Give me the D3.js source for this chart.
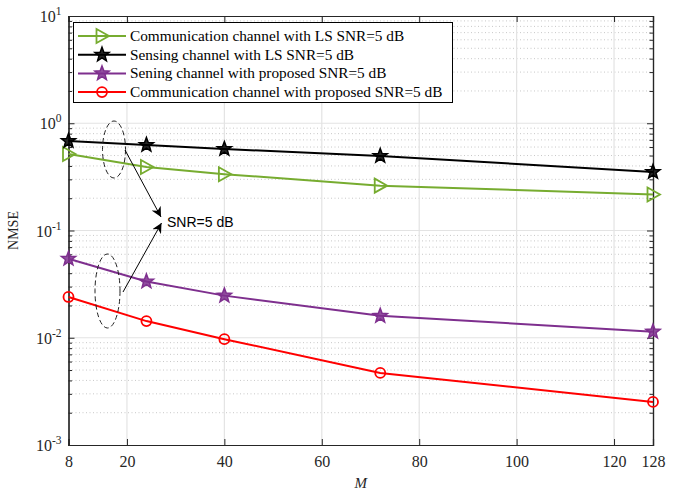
<!DOCTYPE html>
<html><head><meta charset="utf-8">
<script src="https://cdn.jsdelivr.net/npm/d3@7"></script>
<style>body{margin:0;background:#fff}svg{display:block}</style>
</head><body>
<script>
const M = [8, 24, 40, 72, 128];
const commLS = [0.517, 0.391, 0.335, 0.262, 0.217];
const senseLS = [0.683, 0.627, 0.575, 0.495, 0.351];
const senseProp = [0.0545, 0.0335, 0.0247, 0.0160, 0.0114];
const commProp = [0.0240, 0.0143, 0.0097, 0.0047, 0.00252];
const xTicks = [8, 20, 40, 60, 80, 100, 120, 128];
const yTickExps = [-3, -2, -1, 0, 1];
const legendLabels = [
  "Communication channel with LS SNR=5 dB",
  "Sensing channel with LS SNR=5 dB",
  "Sening channel with proposed SNR=5 dB",
  "Communication channel with proposed SNR=5 dB"
];

const W = 686, H = 491;
const L = 68.5, R = 653, T = 16, B = 445;
const svg = d3.select("body").append("svg").attr("width", W).attr("height", H);
const x = d3.scaleLinear().domain([8, 128]).range([L, R]);
const y = d3.scaleLog().domain([1e-3, 1e1]).range([B, T]);
const serif = "'Liberation Serif', 'Times New Roman', serif";

// minor grid
const minors = [];
for (let e = -3; e < 1; e++) for (let k = 2; k <= 9; k++) minors.push(k * Math.pow(10, e));
svg.append("g").selectAll("line").data(minors).join("line")
  .attr("x1", L).attr("x2", R).attr("y1", d => y(d)).attr("y2", d => y(d))
  .attr("stroke", "#c8c8c8").attr("stroke-width", 1).attr("stroke-dasharray", "1,2.5");
// major grid
svg.append("g").selectAll("line").data(yTickExps.slice(1, -1)).join("line")
  .attr("x1", L).attr("x2", R).attr("y1", d => y(Math.pow(10, d))).attr("y2", d => y(Math.pow(10, d)))
  .attr("stroke", "#e3e3e3").attr("stroke-width", 1.2);
svg.append("g").selectAll("line").data(xTicks.slice(1, -1)).join("line")
  .attr("x1", d => x(d)).attr("x2", d => x(d)).attr("y1", T).attr("y2", B)
  .attr("stroke", "#e3e3e3").attr("stroke-width", 1.2);

// axes (inside ticks)
const tickCol = "#262626";
const xAxisB = d3.axisBottom(x).tickValues(xTicks).tickSize(-6).tickPadding(11).tickFormat(d3.format("d"));
const gxb = svg.append("g").attr("transform", `translate(0,${B})`).call(xAxisB);
const gxt = svg.append("g").attr("transform", `translate(0,${T})`).call(d3.axisTop(x).tickValues(xTicks).tickSize(-6).tickFormat(""));
const yAxisL = d3.axisLeft(y).tickValues(yTickExps.map(e => Math.pow(10, e))).tickSize(-6).tickFormat("");
const gyl = svg.append("g").attr("transform", `translate(${L},0)`).call(yAxisL);
const gyr = svg.append("g").attr("transform", `translate(${R},0)`).call(d3.axisRight(y).tickValues(yTickExps.map(e => Math.pow(10, e))).tickSize(-6).tickFormat(""));
const gyl2 = svg.append("g").attr("transform", `translate(${L},0)`).call(d3.axisLeft(y).tickValues(minors).tickSize(-3.5).tickFormat(""));
const gyr2 = svg.append("g").attr("transform", `translate(${R},0)`).call(d3.axisRight(y).tickValues(minors).tickSize(-3.5).tickFormat(""));
[gxb, gxt, gyl, gyr, gyl2, gyr2].forEach(g => {
  g.selectAll("path.domain").attr("stroke", tickCol).attr("stroke-width", 1.2);
  g.selectAll(".tick line").attr("stroke", tickCol).attr("stroke-width", 1);
});
gxb.selectAll("text").attr("font-family", serif).attr("font-size", 16).attr("fill", "#262626");

// y tick labels with superscripts
const yl = svg.append("g").selectAll("text").data(yTickExps).join("text")
  .attr("x", L - 7).attr("y", d => y(Math.pow(10, d)) + 6)
  .attr("text-anchor", "end").attr("font-family", serif).attr("font-size", 16).attr("fill", "#262626");
yl.append("tspan").text("10");
yl.append("tspan").attr("dy", -7).attr("font-size", 11.5).text(d => d);

// axis labels
svg.append("text").attr("x", (L + R) / 2).attr("y", 488).attr("text-anchor", "middle")
  .attr("font-family", serif).attr("font-style", "italic").attr("font-size", 15).attr("fill", "#262626").text("M");
svg.append("text").attr("transform", `translate(18,${(T + B) / 2}) rotate(-90)`).attr("text-anchor", "middle")
  .attr("font-family", serif).attr("font-size", 14).attr("fill", "#262626").text("NMSE");

// markers
function starPath(r) {
  const pts = [];
  for (let i = 0; i < 10; i++) {
    const a = -Math.PI / 2 + i * Math.PI / 5;
    const rr = i % 2 === 0 ? r : r * 0.42;
    pts.push([rr * Math.cos(a), rr * Math.sin(a)]);
  }
  return "M" + pts.map(p => p.join(",")).join("L") + "Z";
}
const triPath = "M-5.5,-7L7,0L-5.5,7Z";
const series = [
  {data: commLS, color: "#77AC30", marker: "tri"},
  {data: senseLS, color: "#000000", marker: "star"},
  {data: senseProp, color: "#7E2F8E", marker: "star"},
  {data: commProp, color: "#FF0000", marker: "circle"}
];
function drawMarker(g, s, cx, cy) {
  if (s.marker === "circle") {
    g.append("circle").attr("cx", cx).attr("cy", cy).attr("r", 5).attr("fill", "none").attr("stroke", s.color).attr("stroke-width", 1.8);
  } else if (s.marker === "tri") {
    g.append("path").attr("d", triPath).attr("transform", `translate(${cx},${cy})`).attr("fill", "none").attr("stroke", s.color).attr("stroke-width", 1.8);
  } else {
    g.append("path").attr("d", starPath(7.5)).attr("transform", `translate(${cx},${cy})`).attr("fill", s.color).attr("fill-opacity", 0.85)
      .attr("stroke", s.color).attr("stroke-width", 1.5).attr("stroke-linejoin", "miter");
  }
}
const line = d3.line().x((d, i) => x(M[i])).y(d => y(d));
series.forEach(s => {
  const g = svg.append("g");
  g.append("path").datum(s.data).attr("d", line).attr("fill", "none").attr("stroke", s.color).attr("stroke-width", 2);
  s.data.forEach((v, i) => drawMarker(g, s, x(M[i]), y(v)));
});

// annotations
const ann = svg.append("g");
ann.append("ellipse").attr("cx", 114).attr("cy", 149.5).attr("rx", 11.5).attr("ry", 28.5)
  .attr("fill", "none").attr("stroke", "#222").attr("stroke-width", 1).attr("stroke-dasharray", "5,3");
ann.append("ellipse").attr("cx", 107.5).attr("cy", 291).attr("rx", 12.5).attr("ry", 37)
  .attr("fill", "none").attr("stroke", "#222").attr("stroke-width", 1).attr("stroke-dasharray", "5,3");
svg.append("defs").append("marker").attr("id", "ah").attr("viewBox", "0 0 10 10").attr("refX", 10).attr("refY", 5)
  .attr("markerWidth", 10).attr("markerHeight", 10).attr("markerUnits", "userSpaceOnUse").attr("orient", "auto")
  .append("path").attr("d", "M0,0L10,5L0,10L3,5Z").attr("fill", "#000");
ann.append("line").attr("x1", 125).attr("y1", 150).attr("x2", 161).attr("y2", 217)
  .attr("stroke", "#000").attr("stroke-width", 1).attr("marker-end", "url(#ah)");
ann.append("line").attr("x1", 123).attr("y1", 292).attr("x2", 161.5).attr("y2", 223)
  .attr("stroke", "#000").attr("stroke-width", 1).attr("marker-end", "url(#ah)");
ann.append("text").attr("x", 167).attr("y", 227).attr("font-family", "'Liberation Sans', Arial, sans-serif")
  .attr("font-size", 14).attr("fill", "#000").text("SNR=5 dB");

// legend
const lg = svg.append("g");
lg.append("rect").attr("x", 73.5).attr("y", 22.5).attr("width", 379).attr("height", 80)
  .attr("fill", "#fff").attr("stroke", "#000").attr("stroke-width", 1);
legendLabels.forEach((lab, i) => {
  const cy = 36 + i * 18.7;
  const s = series[i];
  lg.append("line").attr("x1", 78).attr("x2", 126).attr("y1", cy).attr("y2", cy).attr("stroke", s.color).attr("stroke-width", 2);
  drawMarker(lg, s, 102, cy);
  lg.append("text").attr("x", 130).attr("y", cy + 5).attr("font-family", serif).attr("font-size", 15.3)
    .attr("fill", "#000").text(lab);
});
</script>
</body></html>
